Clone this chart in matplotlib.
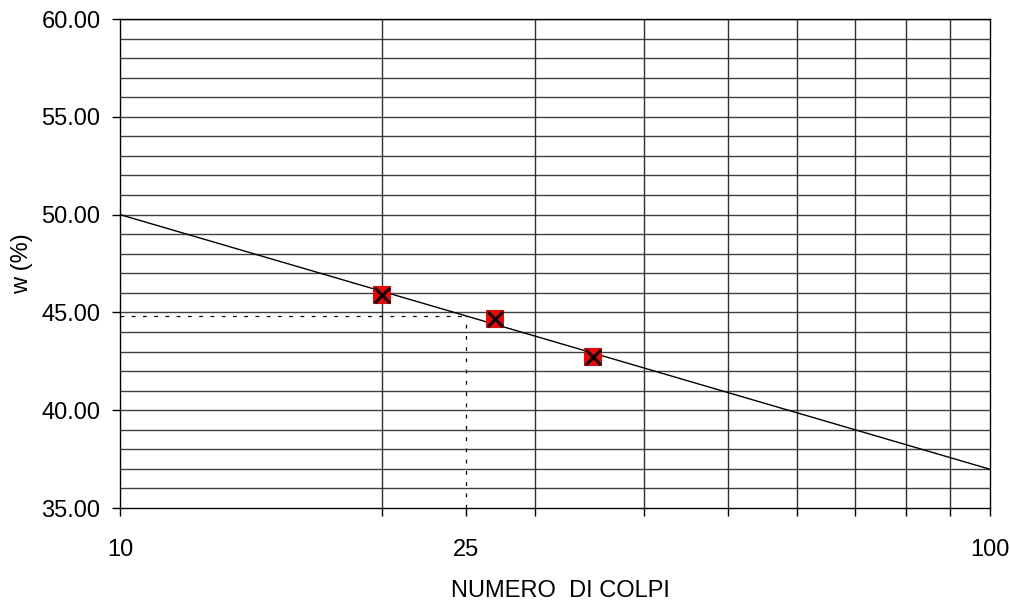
import matplotlib
matplotlib.use("Agg")
import matplotlib.pyplot as plt
import numpy as np
from matplotlib.ticker import FixedLocator, NullFormatter, FixedFormatter

plt.rcParams['font.family'] = ['Liberation Sans', 'DejaVu Sans']

colpi = [20, 27, 35]
w_pct = [45.9, 44.65, 42.72]
fit_x = [10, 100]
fit_y = [50.0, 36.98]
n25 = 25
w25 = 44.8

FS = 17

fig = plt.figure(figsize=(10.1, 6.02), dpi=100)
ax = fig.add_axes([120/1010, 1-508/602, 870/1010, 489/602])
ax.set_xscale('log')
ax.set_xlim(10, 100)
ax.set_ylim(35, 60)

# grid
for yv in np.arange(36, 60, 1):
    ax.axhline(yv, color='#404040', lw=1.0, zorder=1)
for xv in [20, 30, 40, 50, 60, 70, 80, 90]:
    ax.axvline(xv, color='#303030', lw=1.0, zorder=1)
ax.axhline(60, color='black', lw=1.0, zorder=1)

ax.plot(fit_x, fit_y, color='black', lw=1.0, zorder=3)
ax.plot([n25, n25], [35, w25], color='black', lw=0.9, ls=(0, (3, 6)), zorder=2)
ax.plot([10, n25], [w25, w25], color='black', lw=0.9, ls=(0, (3, 6)), zorder=2)

ax.scatter(colpi, w_pct, marker='s', s=160, color='red', zorder=4, linewidths=0)
ax.scatter(colpi, w_pct, marker='x', s=120, color='black', linewidths=2.3, zorder=5)

ax.xaxis.set_major_locator(FixedLocator([10, 25, 100]))
ax.xaxis.set_major_formatter(FixedFormatter(['10', '25', '100']))
ax.xaxis.set_minor_locator(FixedLocator([20, 30, 40, 50, 60, 70, 80, 90]))
ax.xaxis.set_minor_formatter(NullFormatter())
ax.tick_params(axis='x', which='both', direction='out', length=6, width=1, labelsize=FS, pad=16)
ax.set_yticks(np.arange(35, 60.1, 5))
ax.set_yticklabels([f"{v:.2f}" for v in np.arange(35, 60.1, 5)])
ax.tick_params(axis='y', which='major', direction='out', length=6, width=1, labelsize=FS, pad=8)

for s in ax.spines.values():
    s.set_color('black')
    s.set_linewidth(1.0)

fig.text(560/1010, 0.0, 'NUMERO  DI COLPI', fontsize=FS, ha='center', va='bottom')
fig.text(22/1010, 1-263.5/602, 'w (%)', fontsize=FS, ha='center', va='center', rotation=90)

fig.savefig('out.png', dpi=100)
